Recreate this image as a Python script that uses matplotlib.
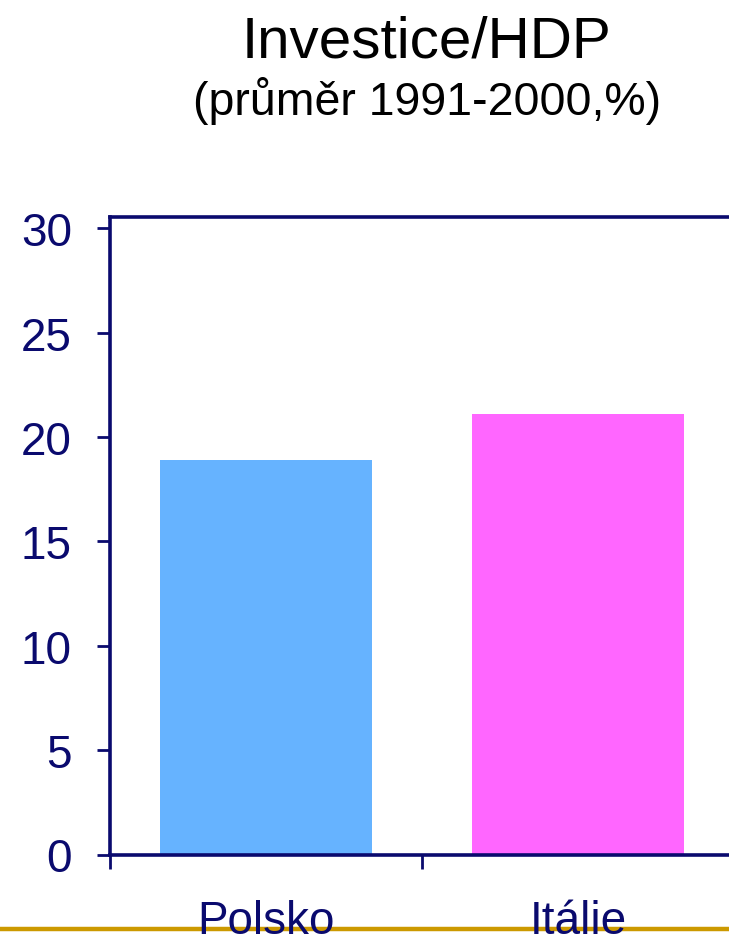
import matplotlib
matplotlib.use("Agg")
import matplotlib.pyplot as plt
from matplotlib.lines import Line2D
from matplotlib.transforms import blended_transform_factory

# Data
categories = ["Polsko", "Itálie"]
values = [18.9, 21.1]
bar_colors = ["#66B3FF", "#FF66FF"]
yticks = [0, 5, 10, 15, 20, 25, 30]
title = "Investice/HDP"
subtitle = "(průměr 1991-2000,%)"

NAVY = "#0A0A6E"
GOLD = "#CC9900"
W, H = 729, 945

plt.rcParams["font.family"] = ["Liberation Sans", "DejaVu Sans"]

fig = plt.figure(figsize=(W / 100, H / 100), dpi=100)
fig.patch.set_facecolor("white")

# Axes box (right edge runs slightly past the figure border)
left, right, top, bottom = 110, 734, 217.7, 855.5
ax = fig.add_axes([left / W, 1 - bottom / H, (right - left) / W, (bottom - top) / H])

xpos = list(range(len(categories)))
ax.bar(xpos, values, width=0.68, color=bar_colors, edgecolor="none", zorder=2)

ax.set_xlim(-0.5, len(categories) - 0.5)
ax.set_ylim(0, 30.56)

# Category separators as x ticks, no labels on them
ax.set_xticks([i - 0.5 for i in range(len(categories) + 1)])
ax.set_xticklabels([])
ax.tick_params(axis="x", direction="out", length=10, width=2.0, color=NAVY)

ax.set_yticks(yticks)
ax.set_yticklabels([str(v) for v in yticks])
ax.tick_params(axis="y", direction="out", length=9.4, width=2.0, color=NAVY,
               labelsize=33, labelcolor=NAVY, pad=18)

for side in ["left", "right", "top", "bottom"]:
    ax.spines[side].set_color(NAVY)
    ax.spines[side].set_linewidth(2.6)

# Category labels below the axis
blend = blended_transform_factory(ax.transData, fig.transFigure)
for x, name in zip(xpos, categories):
    ax.text(x, 1 - 934.5 / H, name, transform=blend, ha="center", va="baseline",
            fontsize=33, color=NAVY, clip_on=False)

# Decorative gold rule across the bottom
fig.add_artist(Line2D([0, 1], [1 - 930 / H, 1 - 930 / H], transform=fig.transFigure,
                      color=GOLD, linewidth=3.2, zorder=-1))

# Titles
fig.text(427 / W, 1 - 57 / H, title, ha="center", va="baseline", fontsize=42, color="black")
fig.text(427 / W, 1 - 115 / H, subtitle, ha="center", va="baseline", fontsize=33.5, color="black")

fig.savefig("out.png", dpi=100, facecolor="white")
